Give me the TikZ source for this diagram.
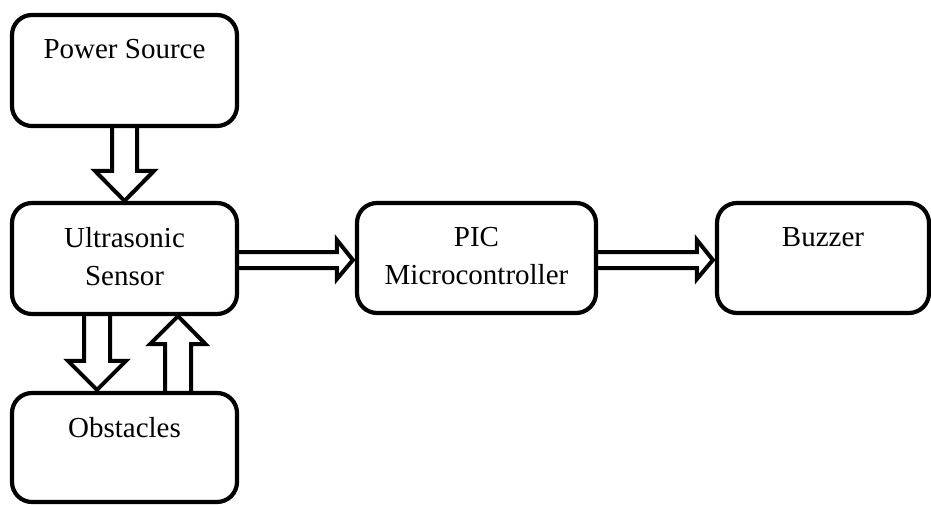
\documentclass[tikz,border=0pt]{standalone}
\usepackage{fontspec}
\setmainfont{Liberation Serif}
\usetikzlibrary{calc}
\begin{document}
\begin{tikzpicture}[x=1pt,y=-1pt,
  block/.style={draw, line width=4.2pt, rounded corners=20pt, inner sep=0pt},
  blocktext/.style={font=\fontsize{29}{38}\selectfont, align=center, inner sep=0pt, anchor=north},
  barrow/.style={draw, line width=4pt, line join=miter, miter limit=10}]
\clip (0,0) rectangle (931,505);
\fill[white] (0,0) rectangle (931,505);

% blocks
\node[block, minimum width=225pt, minimum height=111pt,
  label={[blocktext, yshift=-26pt]north:Power Source}] (power) at (124.5,70.5) {};
\node[block, minimum width=225pt, minimum height=111pt,
  label={[blocktext, yshift=-26pt]north:Ultrasonic\\Sensor}] (ultra) at (124.5,258.5) {};
\node[block, minimum width=225pt, minimum height=109pt,
  label={[blocktext, yshift=-26pt]north:Obstacles}] (obst) at (124.5,447.5) {};
\node[block, minimum width=239pt, minimum height=110pt,
  label={[blocktext, yshift=-26pt]north:PIC\\Microcontroller}] (pic) at (476.5,258) {};
\node[block, minimum width=212pt, minimum height=110pt,
  label={[blocktext, yshift=-26pt]north:Buzzer}] (buzzer) at (823,258) {};

% power source -> ultrasonic sensor
\draw[barrow] ($(power.south)+(-12.5,0)$) -- ($(ultra.north)+(-12.5,-30)$)
  -- ($(ultra.north)+(-29.5,-30)$) -- (ultra.north)
  -- ($(ultra.north)+(29.5,-30)$) -- ($(ultra.north)+(12.5,-30)$)
  -- ($(power.south)+(12.5,0)$);

% ultrasonic sensor -> obstacles
\draw[barrow] ($(ultra.south)+(-40.5,0)$) -- ($(obst.north)+(-40.5,-30)$)
  -- ($(obst.north)+(-56.5,-30)$) -- ($(obst.north)+(-27.5,-1)$)
  -- ($(obst.north)+(1.5,-30)$) -- ($(obst.north)+(-14.5,-30)$)
  -- ($(ultra.south)+(-14.5,0)$);

% obstacles -> ultrasonic sensor
\draw[barrow] ($(obst.north)+(40.5,0)$) -- ($(ultra.south)+(40.5,28)$)
  -- ($(ultra.south)+(25.5,28)$) -- ($(ultra.south)+(53.5,0)$)
  -- ($(ultra.south)+(81,28)$) -- ($(ultra.south)+(66.5,28)$)
  -- ($(obst.north)+(66.5,0)$);

% ultrasonic sensor -> PIC microcontroller
\draw[barrow] ($(ultra.east)+(0,-6.5)$) -- ($(pic.west)+(-18,-6)$)
  -- ($(pic.west)+(-18,-18)$) -- ($(pic.west)+(-2,2)$)
  -- ($(pic.west)+(-18,21)$) -- ($(pic.west)+(-18,10)$)
  -- ($(ultra.east)+(0,9.5)$);

% PIC microcontroller -> buzzer
\draw[barrow] ($(pic.east)+(0,-6)$) -- ($(buzzer.west)+(-18,-6)$)
  -- ($(buzzer.west)+(-18,-18)$) -- ($(buzzer.west)+(-2,2)$)
  -- ($(buzzer.west)+(-18,21)$) -- ($(buzzer.west)+(-18,10)$)
  -- ($(pic.east)+(0,10)$);
\end{tikzpicture}
\end{document}
